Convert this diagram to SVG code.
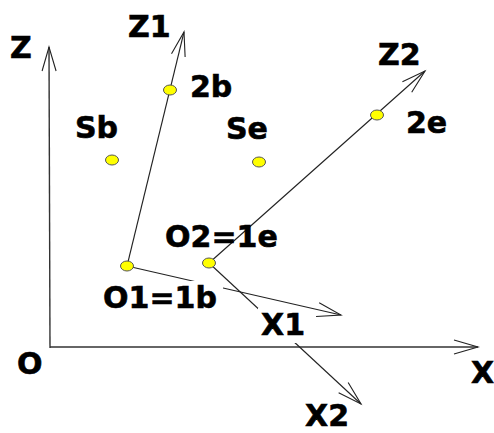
<svg xmlns="http://www.w3.org/2000/svg" width="494" height="433" viewBox="0 0 494 433">
<style>
.ln{stroke:#222;stroke-width:1.1;fill:none}
.ax{stroke:#333;stroke-width:1.4;fill:none}
.lbl{font-family:"DejaVu Sans",sans-serif;font-weight:bold;font-size:30px;fill:#000;stroke:#000;stroke-width:0.6}
.pt{fill:#ffff00;stroke:#555;stroke-width:1}
.bg{fill:#fff}
</style>
<defs>
<marker id="arr" markerUnits="userSpaceOnUse" markerWidth="30" markerHeight="20" viewBox="-26 -10 30 20" refX="0" refY="0" orient="auto" overflow="visible">
<path d="M-24,-7 L0,0 L-24,7" fill="none" stroke="#222" stroke-width="1.1"/>
</marker>
</defs>
<rect width="494" height="433" fill="#fff"/>
<g id="connectors">
<line id="axis-z" class="ax" x1="50" y1="348" x2="49" y2="47" marker-end="url(#arr)"/>
<line id="axis-x" class="ax" x1="50" y1="347" x2="478" y2="347" marker-end="url(#arr)"/>
<line id="z1" class="ln" x1="127" y1="266" x2="184" y2="32" marker-end="url(#arr)"/>
<line id="x1" class="ln" x1="127" y1="266" x2="341" y2="315" marker-end="url(#arr)"/>
<line id="z2" class="ln" x1="209" y1="263" x2="425" y2="71" marker-end="url(#arr)"/>
<line id="x2" class="ln" x1="209" y1="263" x2="361" y2="404" marker-end="url(#arr)"/>
</g>
<g id="axis-labels">
<text class="lbl" x="10" y="58">Z</text>
<text class="lbl" x="17" y="374">O</text>
<text class="lbl" x="471" y="383">X</text>
<text class="lbl" x="128" y="37">Z1</text>
<text class="lbl" x="378" y="65">Z2</text>
<rect class="bg" x="258" y="308" width="46" height="35"/>
<text class="lbl" x="261" y="335">X1</text>
<text class="lbl" x="305" y="426">X2</text>
</g>
<g id="node-Sb">
<ellipse class="pt" cx="112" cy="160" rx="6.5" ry="5"/>
<text class="lbl" x="75" y="138">Sb</text>
</g>
<g id="node-Se">
<ellipse class="pt" cx="259" cy="162" rx="6.5" ry="5"/>
<text class="lbl" x="226" y="139">Se</text>
</g>
<g id="node-2b">
<ellipse class="pt" cx="170" cy="90" rx="6.5" ry="5"/>
<text class="lbl" x="190" y="97">2b</text>
</g>
<g id="node-2e">
<ellipse class="pt" cx="377" cy="115" rx="6.5" ry="5"/>
<text class="lbl" x="406" y="133">2e</text>
</g>
<g id="node-O1">
<rect class="bg" x="100" y="281" width="123" height="31"/>
<ellipse class="pt" cx="127" cy="266" rx="6.5" ry="5"/>
<text class="lbl" x="103" y="308">O1=1b</text>
</g>
<g id="node-O2">
<ellipse class="pt" cx="209" cy="263" rx="6.5" ry="5"/>
<text class="lbl" x="165" y="247">O2=1e</text>
</g>
</svg>
